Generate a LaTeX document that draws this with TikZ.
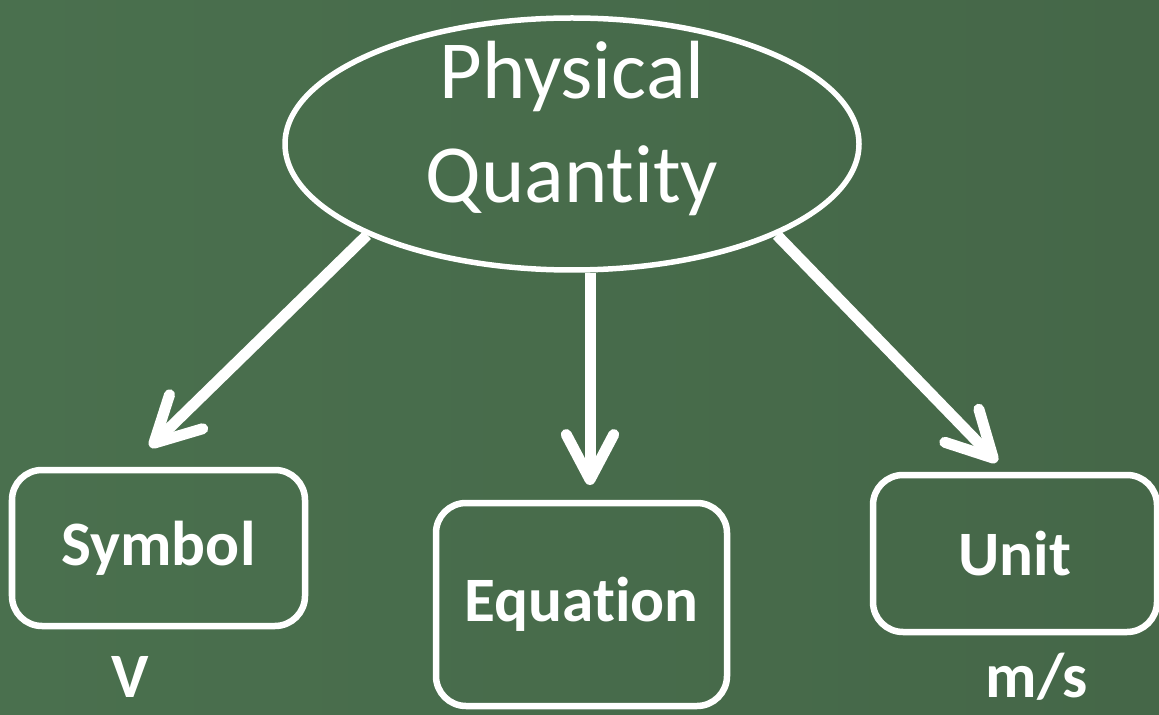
\documentclass[tikz,border=0pt]{standalone}
\usepackage{fontspec}
\setmainfont[Ligatures={NoCommon}]{Carlito}
\usepackage{tikz}
\usetikzlibrary{arrows.meta, positioning, calc, shapes.geometric}
\definecolor{boardcolor}{RGB}{74,112,78}
\definecolor{boardright}{RGB}{69,103,72}
\definecolor{chalk}{RGB}{255,255,255}
\tikzset{
  bubble/.style={ellipse, draw=chalk, line width=0.11cm, inner sep=-0.8cm,
                 minimum width=11.48cm, minimum height=5.04cm, align=center,
                 text depth=0.9cm, text=chalk, font=\fontsize{47}{59}\selectfont},
  card/.style={rectangle, draw=chalk, line width=0.13cm, rounded corners=0.6cm,
               text=chalk, font=\fontsize{36}{42}\selectfont\bfseries},
  example/.style={text=chalk, font=\fontsize{36}{42}\selectfont\bfseries},
  chalkarrow/.style={-{Straight Barb[length=0.9cm, width=0.95cm, round]},
                     line width=0.22cm, draw=chalk},
}

\begin{document}
\begin{tikzpicture}
  % Board
  \fill[left color=boardcolor, right color=boardright] (0,0) rectangle (23.18,14.28);
  \useasboundingbox (0,0) rectangle (23.18,14.28);

  % Quantity
  \node[bubble] (pq) at (11.44,11.40) {Physical\\Quantity};

  % Boxes
  \node[card, minimum width=5.86cm, minimum height=3.12cm] (sym) at (3.17,3.32) {Symbol};
  \node[card, minimum width=5.82cm, minimum height=4.06cm] (eq) at (11.63,2.19) {Equation};
  \node[card, minimum width=5.68cm, minimum height=3.14cm] (unit) at (20.30,3.21) {Unit};

  % Examples
  \node[example] (symex) at (2.60,0.74) {V};
  \node[example] (unitex) at (20.74,0.74) {m/s};

  % Arrow tips
  \coordinate (symtip) at (3.00,5.34);
  \coordinate (eqtip) at (11.80,4.58);
  \coordinate (unittip) at (19.94,5.04);

  % Arrows
  \draw[chalkarrow] (pq.south west) -- (symtip);
  \draw[chalkarrow] (pq.south -| eqtip) -- (eqtip);
  \draw[chalkarrow] (pq.south east) -- (unittip);

\end{tikzpicture}
\end{document}
